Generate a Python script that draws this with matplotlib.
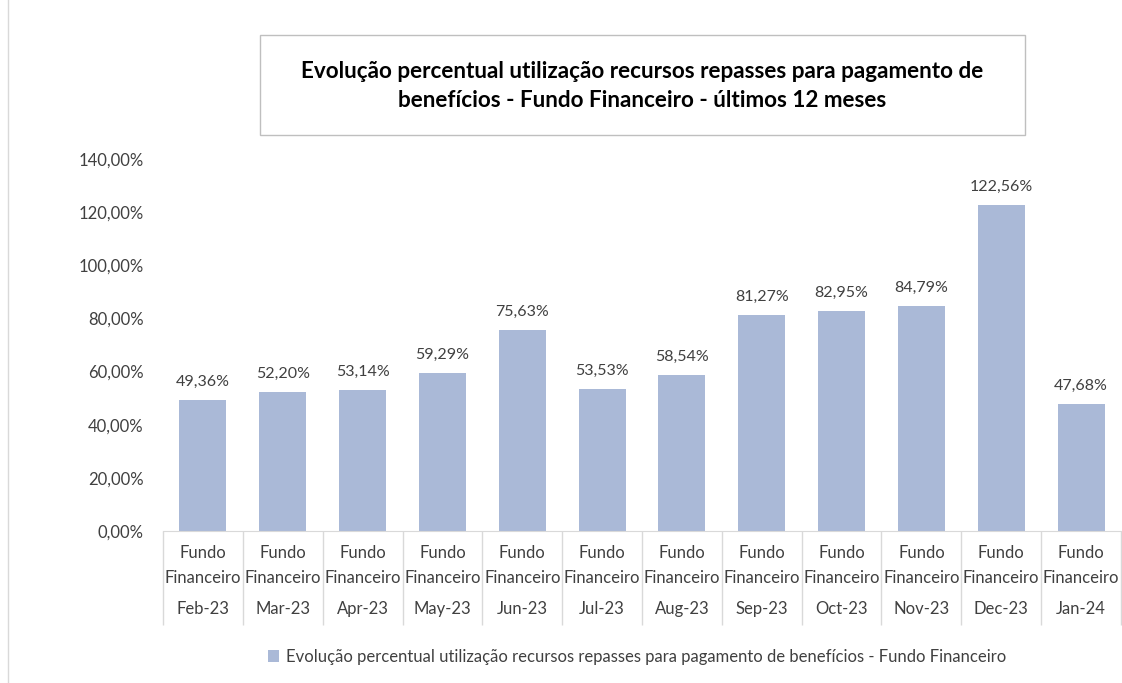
import numpy as np
import matplotlib.pyplot as plt
from matplotlib.patches import Rectangle, Patch

# Data
months = ['Feb-23', 'Mar-23', 'Apr-23', 'May-23', 'Jun-23', 'Jul-23',
          'Aug-23', 'Sep-23', 'Oct-23', 'Nov-23', 'Dec-23', 'Jan-24']
values = [49.36, 52.20, 53.14, 59.29, 75.63, 53.53,
          58.54, 81.27, 82.95, 84.79, 122.56, 47.68]
yticks = [0, 20, 40, 60, 80, 100, 120, 140]

title = ('Evolução percentual utilização recursos repasses para pagamento de\n'
         'benefícios - Fundo Financeiro - últimos 12 meses')
series_name = ('Evolução percentual utilização recursos repasses para pagamento '
               'de benefícios - Fundo Financeiro')

bar_color = '#AAB9D7'
text_color = '#404040'
line_color = '#D9D9D9'
font = 'Lato'

fig = plt.figure(figsize=(11.22, 6.83), dpi=100)
ax = fig.add_axes([163 / 1122, 1 - 531 / 683, 958 / 1122, (531 - 159) / 683])

x = np.arange(len(months))
ax.bar(x, values, width=0.59, color=bar_color)
ax.set_xlim(-0.5, len(months) - 0.5)
ax.set_ylim(0, 140)

# y axis
ax.set_yticks(yticks)
ax.set_yticklabels([f'{v:.2f}%'.replace('.', ',') for v in yticks],
                   fontsize=12, color=text_color, fontname=font)
ax.tick_params(axis='y', length=0, pad=14)

# x axis: category separators
ax.set_xticks(x)
ax.set_xticklabels([])
ax.tick_params(axis='x', which='major', length=0)
ax.set_xticks(np.arange(len(months) + 1) - 0.5, minor=True)
ax.tick_params(axis='x', which='minor', length=68, color=line_color, width=1)

for s in ['top', 'right', 'left']:
    ax.spines[s].set_visible(False)
ax.spines['bottom'].set_color(line_color)

trans = ax.get_xaxis_transform()
for i, m in enumerate(months):
    for txt, off in [('Fundo', -16), ('Financeiro', -34), (m, -56)]:
        ax.annotate(txt, (i, 0), xycoords=trans, xytext=(0, off),
                    textcoords='offset points', ha='center', va='center',
                    fontsize=12, color=text_color, fontname=font)

# data labels
for i, v in enumerate(values):
    ax.annotate(f'{v:.2f}%'.replace('.', ','), (i, v), xytext=(0, 8),
                textcoords='offset points', ha='center', va='bottom',
                fontsize=11.5, color=text_color, fontname=font)

# title box
box = Rectangle((260 / 1122, 1 - 135 / 683), (1025 - 260) / 1122, 100 / 683,
                transform=fig.transFigure, facecolor='white',
                edgecolor='#BFBFBF', linewidth=1)
fig.patches.append(box)
fig.text(642 / 1122, 1 - 86 / 683, title, ha='center', va='center',
         fontsize=16.2, fontweight='bold', color='black', fontname=font,
         linespacing=1.5)

# left border line
fig.add_artist(plt.Line2D([8 / 1122, 8 / 1122], [0, 1], color=line_color,
                          linewidth=1, transform=fig.transFigure))

# legend
handle = Patch(facecolor=bar_color, edgecolor='none')
leg = fig.legend([handle], [series_name], loc='center',
                 bbox_to_anchor=(637 / 1122, 1 - 657 / 683), frameon=False,
                 prop={'family': font, 'size': 12}, handlelength=0.7,
                 handleheight=0.7, handletextpad=0.4)
for t in leg.get_texts():
    t.set_color(text_color)

fig.savefig('out.png', dpi=100)
